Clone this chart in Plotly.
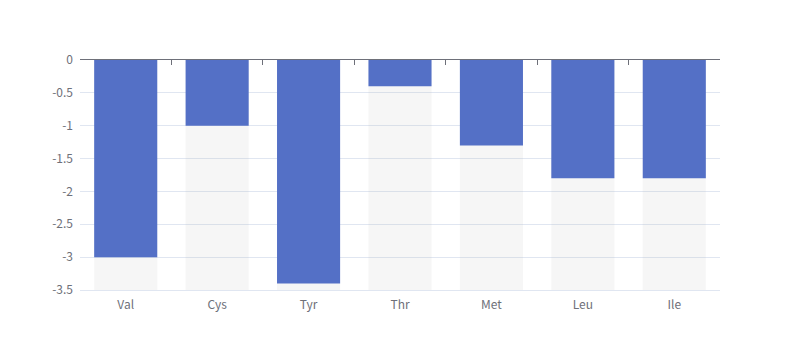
import plotly.graph_objects as go

categories = ["Val", "Cys", "Tyr", "Thr", "Met", "Leu", "Ile"]
values = [-3, -1, -3.4, -0.4, -1.3, -1.8, -1.8]
y_min = -3.5
y_ticks = [0, -0.5, -1, -1.5, -2, -2.5, -3, -3.5]
y_tick_labels = ["0", "-0.5", "-1", "-1.5", "-2", "-2.5", "-3", "-3.5"]
background = [y_min] * len(categories)

FONT = "Noto Sans CJK SC, Noto Sans, sans-serif"
AXIS_C = "#6E7079"
GRID_C = "#E0E6F1"

fig = go.Figure()
fig.add_trace(go.Bar(x=categories, y=background, width=0.69,
                     marker=dict(color="rgba(180,180,180,0.12)", line=dict(width=0)),
                     hoverinfo="skip", showlegend=False))
fig.add_trace(go.Bar(x=categories, y=values, width=0.69,
                     marker=dict(color="#5470C6", line=dict(width=0)),
                     showlegend=False))
# dummy trace for top axis
fig.add_trace(go.Scatter(x=categories, y=values, xaxis="x2", mode="markers",
                         marker=dict(opacity=0), hoverinfo="skip", showlegend=False))

fig.update_layout(
    width=800, height=360,
    margin=dict(l=72, r=88, t=52, b=78),
    paper_bgcolor="white", plot_bgcolor="white",
    barmode="overlay", bargap=0.31,
    font=dict(family=FONT, size=12, color=AXIS_C),
    xaxis=dict(type="category", showline=True, linecolor=GRID_C, linewidth=1,
               ticks="", showgrid=False,
               zeroline=False, tickfont=dict(size=12, color=AXIS_C),
               ticklabelstandoff=4),
    xaxis2=dict(type="category", overlaying="x", side="top", anchor="y",
                showline=True, linecolor=AXIS_C, linewidth=1,
                ticks="inside", ticklen=5, tickcolor=AXIS_C, tickwidth=1,
                tickson="boundaries", showticklabels=False, showgrid=False,
                zeroline=False, matches="x"),
    yaxis=dict(range=[y_min, 0], tickvals=y_ticks, ticktext=y_tick_labels,
               showline=False, ticks="", showgrid=True, gridcolor=GRID_C,
               gridwidth=1, zeroline=False, tickfont=dict(size=12, color=AXIS_C),
               ticklabelstandoff=6),
)

fig.write_html("out.html")
